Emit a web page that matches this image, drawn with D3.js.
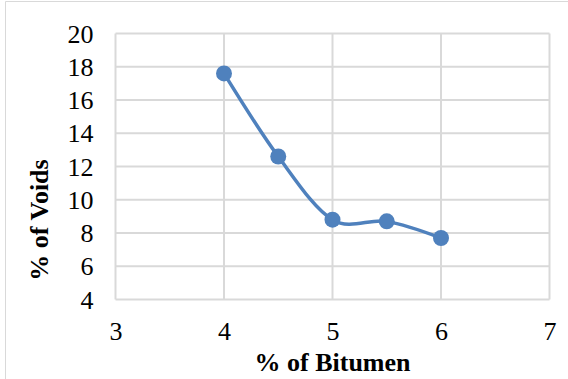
<!DOCTYPE html>
<html>
<head>
<meta charset="utf-8">
<script src="https://cdn.jsdelivr.net/npm/d3@7"></script>
<style>
  html, body { margin: 0; padding: 0; background: #fff; }
  svg { display: block; }
</style>
</head>
<body>
<svg id="chart" width="568" height="379"></svg>
<script>
// Bitumen content vs. air voids
const bitumen = [4, 4.5, 5, 5.5, 6];
const voids = [17.6, 12.6, 8.8, 8.7, 7.7];
const xTicks = [3, 4, 5, 6, 7];
const yTicks = [4, 6, 8, 10, 12, 14, 16, 18, 20];
const xTitle = "% of Bitumen";
const yTitle = "% of Voids";

const W = 568, H = 379;
const FONT = "'Liberation Serif', 'Times New Roman', serif";
const plot = { left: 115.5, right: 549.5, top: 33.5, bottom: 299.5 };

const svg = d3.select("#chart");

// chart frame
svg.append("path")
  .attr("d", `M5.5,${H} V1.5 H${W}`)
  .attr("fill", "none")
  .attr("stroke", "#d9d9d9")
  .attr("stroke-width", 1);

const x = d3.scaleLinear().domain([3, 7]).range([plot.left, plot.right]);
const y = d3.scaleLinear().domain([4, 20]).range([plot.bottom, plot.top]);

const grid = svg.append("g");
grid.selectAll("line.v").data(xTicks).join("line")
  .attr("class", "v")
  .attr("x1", d => x(d)).attr("x2", d => x(d))
  .attr("y1", plot.top).attr("y2", plot.bottom)
  .attr("stroke", "#d9d9d9").attr("stroke-width", 2);
grid.selectAll("line.h").data(yTicks).join("line")
  .attr("class", "h")
  .attr("x1", plot.left).attr("x2", plot.right)
  .attr("y1", d => y(d)).attr("y2", d => y(d))
  .attr("stroke", "#d9d9d9").attr("stroke-width", 2);

// axes (labels only)
const xAxis = svg.append("g")
  .attr("transform", `translate(0,${plot.bottom})`)
  .call(d3.axisBottom(x).tickValues(xTicks).tickSize(0).tickFormat(d3.format("d")));
const yAxis = svg.append("g")
  .attr("transform", `translate(${plot.left},0)`)
  .call(d3.axisLeft(y).tickValues(yTicks).tickSize(0).tickFormat(d3.format("d")));
[xAxis, yAxis].forEach(a => {
  a.select(".domain").remove();
  a.attr("font-family", null).attr("font-size", null);
  a.selectAll("text")
    .style("font-family", FONT)
    .style("font-size", "26px")
    .attr("fill", "#000");
});
xAxis.selectAll("text").attr("y", 40.5).attr("dy", 0);
yAxis.selectAll("text").attr("x", -22).attr("dy", "0.33em");

// titles
svg.append("text")
  .attr("x", (plot.left + plot.right) / 2)
  .attr("y", 371)
  .attr("text-anchor", "middle")
  .style("font-family", FONT)
  .style("font-size", "26px")
  .style("font-weight", "bold")
  .text(xTitle);
svg.append("text")
  .attr("transform", `translate(48,220) rotate(-90)`)
  .attr("text-anchor", "middle")
  .style("font-family", FONT)
  .style("font-size", "26px")
  .style("font-weight", "bold")
  .text(yTitle);

// series
const pts = bitumen.map((b, i) => [b, voids[i]]);
const line = d3.line()
  .x(d => x(d[0]))
  .y(d => y(d[1]))
  .curve(d3.curveCardinal.tension(0));
svg.append("path")
  .datum(pts)
  .attr("d", line)
  .attr("fill", "none")
  .attr("stroke", "#4f81bd")
  .attr("stroke-width", 3.5)
  .attr("stroke-linejoin", "round")
  .attr("stroke-linecap", "round");
svg.selectAll("circle.pt").data(pts).join("circle")
  .attr("class", "pt")
  .attr("cx", d => x(d[0]))
  .attr("cy", d => y(d[1]))
  .attr("r", 8)
  .attr("fill", "#4f81bd");
</script>
</body>
</html>
